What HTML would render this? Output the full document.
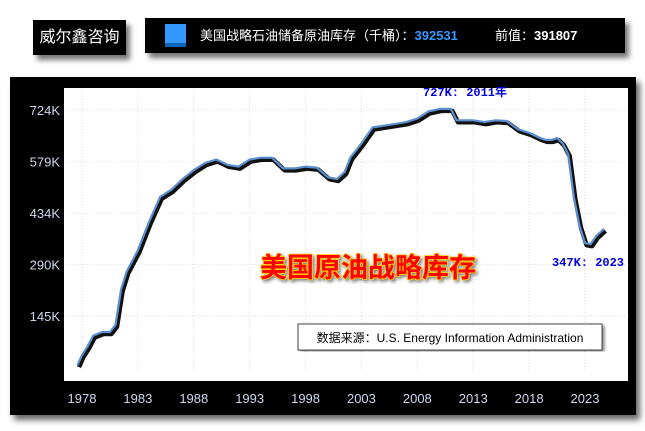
<!DOCTYPE html>
<html><head><meta charset="utf-8"><style>
body{margin:0;width:645px;height:431px;background:#fff;overflow:hidden;font-family:"Liberation Sans","Noto Sans CJK SC",sans-serif}
.box{position:absolute;background:#000;color:#fff;box-shadow:4px 5px 5px #777}
</style></head><body>
<div class="box" style="left:33px;top:20px;width:93px;height:35px;font-size:16px;line-height:35px;text-align:center">威尔鑫咨询</div>
<div class="box" style="left:145px;top:18px;width:480px;height:35px;font-size:13px;line-height:35px">
<span style="position:absolute;left:20px;top:6px;width:21px;height:23px;background:#3399ff;border-bottom:4px solid #0a66b8;box-sizing:border-box"></span>
<span style="position:absolute;left:55px">美国战略石油储备原油库存（千桶）：<b style="color:#3399ff">392531</b></span>
<span style="position:absolute;left:350px">前值：<b>391807</b></span>
</div>
<div class="box" style="left:10px;top:77px;width:626px;height:338px;box-shadow:4px 5px 6px #666"></div>
<svg width="645" height="431" style="position:absolute;left:0;top:0">
<defs><filter id="sh" x="-5%" y="-5%" width="110%" height="110%"><feDropShadow dx="2" dy="2" stdDeviation="1.5" flood-color="#000" flood-opacity="0.5"/></filter></defs>
<rect x="64" y="88" width="564" height="293" fill="#fff"/>
<g id="grid"></g><g id="ax"></g><g id="ln"></g>
<text x="423" y="96" fill="#0000dd" font-family="Liberation Mono,Noto Sans CJK SC,monospace" font-weight="bold" font-size="12">727K: 2011年</text>
<text x="552" y="266" fill="#0000dd" font-family="Liberation Mono,monospace" font-weight="bold" font-size="12">347K: 2023</text>
<text x="368" y="277" text-anchor="middle" fill="#ff0000" stroke="#ffcc00" stroke-width="1.5" paint-order="stroke" font-weight="bold" font-size="27" font-family="Liberation Sans,Noto Sans CJK SC,sans-serif" filter="url(#sh)">美国原油战略库存</text>
<rect x="298" y="324" width="304" height="26" fill="#fff" stroke="#444" filter="url(#sh)"/>
<text x="450" y="342" text-anchor="middle" font-size="12" fill="#000">数据来源：U.S. Energy Information Administration</text>
</svg>
<script>
const years=[1977.6,1978,1978.5,1979,1979.8,1980.5,1981,1981.5,1982,1983,1984,1985,1986,1987,1988,1989,1990,1991,1992,1993,1994,1995,1996,1997,1998,1999,2000,2000.8,2001.5,2002,2003,2004,2005,2006,2007,2008,2009,2010,2011,2011.5,2012,2013,2014,2015,2016,2017,2018,2019,2019.5,2020,2020.5,2021,2021.5,2022,2022.5,2023,2023.5,2024,2024.7];
const values=[7,35,60,90,100,100,120,220,270,330,410,480,500,530,555,575,585,570,565,585,590,590,560,560,565,562,535,530,550,590,630,675,680,685,690,700,720,727,727,695,695,695,690,695,693,670,660,645,640,640,645,630,600,480,400,350,347,370,390];
const xTicks=[1978,1983,1988,1993,1998,2003,2008,2013,2018,2023];
const yTicks=[145,290,434,579,724];
const yLabels=["145K","290K","434K","579K","724K"];
const X=y=>82+(y-1978)*503/45, Y=v=>367.6-v*0.3558;
const NS="http://www.w3.org/2000/svg";
function mk(p,t,a){const e=document.createElementNS(NS,t);for(const k in a)e.setAttribute(k,a[k]);document.getElementById(p).appendChild(e);return e;}
xTicks.forEach((t,i)=>{
 const g=mk('grid','line',{x1:X(t),x2:X(t),y1:90,y2:370,stroke:'#ddd','stroke-dasharray':'1,2'});
 
 
 const l=mk('ax','text',{x:X(t),y:403,'text-anchor':'middle',fill:'#cfd8e8','font-size':13});
 l.textContent=t;
 
 
});
yTicks.forEach((v,i)=>{
 const g=mk('grid','line',{x1:66,x2:626,y1:Y(v),y2:Y(v),stroke:'#ddd','stroke-dasharray':'1,2'});
 
 
 const l=mk('ax','text',{x:60,y:Y(v)+5,'text-anchor':'end',fill:'#cfd8e8','font-size':13});
 l.textContent=yLabels[i];
 
 
});
const d=years.map((y,i)=>(i?'L':'M')+X(y).toFixed(1)+','+Y(values[i]).toFixed(1)).join('');
const s=mk('ln','path',{d:d,fill:'none',stroke:'#111','stroke-width':4.5,'stroke-linejoin':'round',transform:'translate(1.5,2)'});


const p=mk('ln','path',{d:d,fill:'none',stroke:'#5b8fd0','stroke-width':2.2,'stroke-linejoin':'round'});


</script>
</body></html>
